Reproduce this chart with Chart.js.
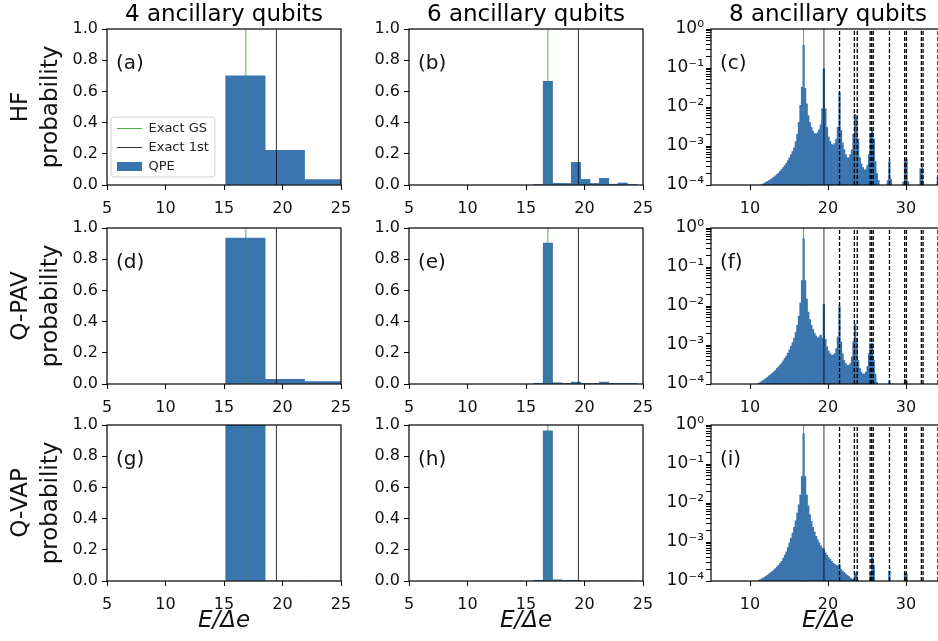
<!DOCTYPE html>
<html>
<head>
<meta charset="utf-8">
<script src="https://cdn.jsdelivr.net/npm/chart.js@4.4.1/dist/chart.umd.min.js"></script>
<style>
  html, body { margin: 0; padding: 0; width: 938px; height: 641px; overflow: hidden; background: #fff; }
  body { position: relative; }
  canvas { position: absolute; }
</style>
</head>
<body>
<script>
  // ---- data ----
  const colTitles = ['4 ancillary qubits', '6 ancillary qubits', '8 ancillary qubits'];
  const rowNames = ['HF', 'Q-PAV', 'Q-VAP'];
  const panelTags = [['(a)', '(b)', '(c)'], ['(d)', '(e)', '(f)'], ['(g)', '(h)', '(i)']];

  const exactGS = 16.87;
  const exact1st = 19.48;
  const higherLevels = [21.48, 23.38, 23.75, 25.4, 25.6, 25.8, 27.88, 29.83, 30.05, 31.97, 32.19, 34.1, 34.3];

  const linTicksX = [5, 10, 15, 20, 25];
  const logTicksX = [10, 20, 30];
  const linTicksY = [0, 0.2, 0.4, 0.6, 0.8, 1.0];
  const logDecades = [1e-4, 1e-3, 1e-2, 1e-1, 1];
  const logMinorSteps = [2, 3, 4, 5, 6, 7, 8, 9];

  // 4 ancillary qubits (bin centres)
  const bins4 = [16.83, 20.2, 23.57];
  const hf4  = [0.70, 0.222, 0.034];
  const pav4 = [0.935, 0.03, 0.016];
  const vap4 = [1.0, 0, 0];

  // 6 ancillary qubits
  const bins6 = [16.07, 16.87, 17.67, 18.47, 19.27, 20.07, 20.87, 21.67, 22.47, 23.27, 24.07];
  const hf6  = [0.003, 0.665, 0.011, 0.010, 0.145, 0.036, 0.010, 0.043, 0.005, 0.013, 0.003];
  const pav6 = [0.005, 0.903, 0.008, 0.002, 0.012, 0.003, 0.002, 0.012, 0.002, 0.001, 0.001];
  const vap6 = [0.005, 0.962, 0.008, 0.001, 0.001, 0, 0, 0, 0, 0, 0];

  // 8 ancillary qubits: bins of width 0.2 starting at 11.07
  const bins8Start = 11.07;
  const bins8Width = 0.2;
  const hf8 = [
    null, null, 1.02e-4, 1.06e-4, 1.12e-4, 1.18e-4, 1.24e-4, 1.31e-4, 1.39e-4, 1.48e-4,
    1.6e-4, 1.72e-4, 1.86e-4, 2.02e-4, 2.25e-4, 2.5e-4, 2.8e-4, 3.15e-4, 3.6e-4, 4.2e-4,
    5.0e-4, 6.0e-4, 7.2e-4, 9.0e-4, 1.3e-3, 2.0e-3, 4.0e-3, 1.1e-2, 3.2e-2, 0.38,
    0.03, 0.012, 6e-3, 4e-3, 3e-3, 2.4e-3, 2.1e-3, 2.0e-3, 2.2e-3, 2.6e-3,
    3.5e-3, 9e-3, 0.095, 9e-3, 3e-3, 1.7e-3, 1.3e-3, 1.1e-3, 1.05e-3, 1.15e-3,
    1.5e-3, 3e-3, 0.023, 2.5e-3, 1.2e-3, 8e-4, 6e-4, 5e-4, 5e-4, 6e-4,
    8e-4, 2e-3, 6.5e-3, 5.5e-3, 1.5e-3, 5e-4, 3.5e-4, 2.8e-4, 2.4e-4, 2.5e-4,
    3.2e-4, 6e-4, 2e-3, 2.4e-3, 1.5e-3, 4e-4, 2e-4, 1.3e-4, null, null,
    null, null, null, 1.3e-4, 4e-4, 1.4e-4, null, null, null, null,
    null, null, null, 1.2e-4, 4.5e-4, 4.5e-4, 1.2e-4, null, null, null,
    null, null, null, null, 2.6e-4, 2.8e-4, null, null, null, null,
    null, null, null, null, null, 1.6e-4, null
  ];
  const pav8 = [
    1.02e-4, 1.08e-4, 1.15e-4, 1.22e-4, 1.3e-4, 1.4e-4, 1.5e-4, 1.62e-4, 1.75e-4, 1.9e-4,
    2.05e-4, 2.25e-4, 2.5e-4, 2.75e-4, 3.05e-4, 3.4e-4, 3.9e-4, 4.5e-4, 5.2e-4, 6.2e-4,
    7.5e-4, 9.2e-4, 1.15e-3, 1.5e-3, 2.1e-3, 3.2e-3, 5.5e-3, 0.012, 0.045, 0.53,
    0.045, 0.015, 7e-3, 4.5e-3, 3.2e-3, 2.5e-3, 2.0e-3, 1.7e-3, 1.5e-3, 1.6e-3,
    1.8e-3, 1.5e-3, 0.011, 1.4e-3, 9e-4, 7e-4, 6e-4, 5.5e-4, 5.5e-4, 6e-4,
    8e-4, 1.6e-3, 0.01, 1.2e-3, 6e-4, 4e-4, 3.3e-4, 3e-4, 3e-4, 3.3e-4,
    5e-4, 1.2e-3, 3.4e-3, 1.5e-3, 4e-4, 2.5e-4, 2e-4, 1.8e-4, 1.8e-4, 2e-4,
    2.8e-4, 6e-4, 1.1e-3, 1.1e-3, 4e-4, 1.8e-4, 1.1e-4, null, null, null,
    null, null, null, null, 1.2e-4, null, null, null, null, null,
    null, null, null, null, 1.3e-4, 1.2e-4, null, null, null, null,
    null, null, null, null, null, null, null, null, null, null,
    null, null, null, null, null, null, null
  ];
  const vap8 = [
    1.02e-4, 1.07e-4, 1.12e-4, 1.18e-4, 1.25e-4, 1.33e-4, 1.42e-4, 1.52e-4, 1.63e-4, 1.76e-4,
    1.9e-4, 2.08e-4, 2.3e-4, 2.55e-4, 2.85e-4, 3.2e-4, 3.8e-4, 4.6e-4, 5.6e-4, 7.2e-4,
    9.5e-4, 1.25e-3, 1.7e-3, 2.4e-3, 3.5e-3, 5.5e-3, 9e-3, 0.016, 0.048, 0.6,
    0.048, 0.016, 8.5e-3, 5e-3, 3.4e-3, 2.4e-3, 1.8e-3, 1.4e-3, 1.15e-3, 9.5e-4,
    8e-4, 7e-4, 6.5e-4, 5.3e-4, 4.6e-4, 4e-4, 3.6e-4, 3.2e-4, 2.9e-4, 2.7e-4,
    2.5e-4, 2.4e-4, 2.7e-4, 2e-4, 1.8e-4, 1.65e-4, 1.5e-4, 1.4e-4, 1.3e-4, 1.2e-4,
    1.12e-4, 1.1e-4, 1.5e-4, 1.7e-4, 1.05e-4, null, null, null, null, null,
    null, null, 1.6e-4, 4e-4, 2.5e-4, null, null, null, null, null,
    null, null, null, null, 1.8e-4, null, null, null, null, null,
    null, null, null, null, 1.6e-4, 1.5e-4, null, null, null, null,
    null, null, null, null, null, null, null, null, null, null,
    null, null, null, null, null, null, null
  ];
  const bins8 = hf8.map((_, i) => +(bins8Start + bins8Width * i).toFixed(2));

  const series = [[hf4, hf6, hf8], [pav4, pav6, pav8], [vap4, vap6, vap8]];
  const binsByCol = [bins4, bins6, bins8];

  // ---- layout / style ----
  const colLeft = [107, 409, 711];
  const rowTop = [29, 228, 425];
  const plotW = 234, plotH = 156;
  const barColor = 'rgb(59,117,175)';
  const gsColor = 'rgba(44,160,44,0.85)';
  const firstColor = 'rgba(0,0,0,0.8)';

  Chart.defaults.font.family = '"DejaVu Sans", sans-serif';
  Chart.defaults.color = '#111';

  const supMap = { '-': '⁻', '0': '⁰', '1': '¹', '2': '²', '3': '³', '4': '⁴' };
  const sup = n => String(n).split('').map(ch => supMap[ch]).join('');

  const framePlugin = {
    id: 'frame',
    afterDatasetsDraw(chart, args, opts) {
      const { ctx, chartArea: a } = chart;
      ctx.save();
      ctx.strokeStyle = '#000';
      ctx.lineWidth = 1.2;
      ctx.strokeRect(a.left, a.top, a.right - a.left, a.bottom - a.top);
      ctx.fillStyle = '#111';
      ctx.font = '20px "DejaVu Sans"';
      ctx.textBaseline = 'middle';
      ctx.fillText(opts.tag, a.left + 9, a.top + 35);
      ctx.restore();
    }
  };

  // nudge the in-axes legend to the lower left like the original
  const legendShift = {
    id: 'legendShift',
    afterLayout(chart) {
      const lg = chart.legend;
      if (!lg || !lg.options.display) return;
      lg.top += 23; lg.bottom += 23;
      lg.left += 4; lg.right += 4;
    }
  };

  const legendFrame = {
    id: 'legendFrame',
    beforeDraw(chart) {
      const lg = chart.legend;
      if (!lg || !lg.options.display || !lg.legendHitBoxes.length) return;
      const hb = lg.legendHitBoxes;
      const x0 = Math.min(...hb.map(h => h.left)) - 6;
      const x1 = Math.max(...hb.map(h => h.left + h.width)) + 6;
      const y0 = Math.min(...hb.map(h => h.top)) - 5;
      const y1 = Math.max(...hb.map(h => h.top + h.height)) + 4;
      const ctx = chart.ctx;
      ctx.save();
      ctx.beginPath();
      ctx.roundRect(x0, y0, x1 - x0, y1 - y0, 3);
      ctx.fillStyle = 'rgba(255,255,255,0.8)';
      ctx.fill();
      ctx.strokeStyle = '#d0d0d0';
      ctx.lineWidth = 1;
      ctx.stroke();
      ctx.restore();
    }
  };

  function vline(x, color, dash, width, y0, y1, label) {
    return {
      type: 'line', label: label,
      data: [{ x: x, y: y0 }, { x: x, y: y1 }],
      borderColor: color, borderWidth: width, borderDash: dash,
      pointRadius: 0, pointStyle: 'line', order: 0
    };
  }

  function makePanel(r, c) {
    const isLog = c === 2;
    const yW = c === 0 ? 107 : 60;
    const headH = r === 0 ? 29 : 10;
    const xH = r === 2 ? 56 : 30;
    const canvas = document.createElement('canvas');
    canvas.width = yW + plotW + 12;
    canvas.height = headH + plotH + xH;
    canvas.style.left = (colLeft[c] - yW) + 'px';
    canvas.style.top = (rowTop[r] - headH) + 'px';
    document.body.appendChild(canvas);

    const bins = binsByCol[c];
    const vals = series[r][c];
    const yMin = isLog ? 1e-4 : 0, yMax = 1;

    const datasets = [
      vline(exactGS, gsColor, [], 1, yMin, yMax, 'Exact GS'),
      vline(exact1st, firstColor, [], 1, yMin, yMax, 'Exact 1st'),
      {
        type: 'bar', label: 'QPE',
        data: bins.map((x, i) => ({ x: x, y: vals[i] })),
        backgroundColor: barColor, borderWidth: 0,
        barPercentage: 1, categoryPercentage: 1,
        pointStyle: 'rect', order: 1
      }
    ];
    if (isLog) {
      higherLevels.forEach(v => datasets.push(vline(v, '#000', [4, 2], 1.3, yMin, yMax, '')));
    }

    const yTicks = isLog
      ? logDecades.flatMap((d, i) => i < logDecades.length - 1 ? [d, ...logMinorSteps.map(s => s * d)] : [d])
      : linTicksY;

    new Chart(canvas, {
      type: 'bar',
      data: { datasets: datasets },
      options: {
        responsive: false,
        animation: false,
        devicePixelRatio: 1,
        layout: { padding: { left: 0, right: 12, top: r === 0 ? 0 : 10, bottom: 0 } },
        scales: {
          x: {
            type: 'linear',
            min: 5, max: isLog ? 35 : 25,
            offset: false,
            grid: { offset: false, drawOnChartArea: false, drawTicks: true, tickLength: 5, tickColor: '#000' },
            border: { display: false },
            ticks: { autoSkip: false, maxRotation: 0, padding: 9, font: { size: 16 } },
            afterBuildTicks: s => { s.ticks = (isLog ? logTicksX : linTicksX).map(v => ({ value: v })); },
            afterFit: s => { s.height = xH; s.paddingLeft = 0; s.paddingRight = 0; },
            title: {
              display: r === 2, text: 'E/Δe',
              font: { size: 23, style: 'italic' }, padding: { top: 0, bottom: 2 }
            }
          },
          y: {
            type: isLog ? 'logarithmic' : 'linear',
            min: yMin, max: yMax,
            grid: { drawOnChartArea: false, drawTicks: true, tickLength: 5, tickColor: '#000' },
            border: { display: false },
            ticks: {
              autoSkip: false, padding: isLog ? 2 : 4, font: { size: isLog ? 17 : 16 },
              callback: v => {
                if (!isLog) return v.toFixed(1);
                const e = Math.log10(v);
                return Math.abs(e - Math.round(e)) < 1e-9 ? '10' + sup(Math.round(e)) : '';
              }
            },
            afterBuildTicks: s => { s.ticks = yTicks.map(v => ({ value: v })); },
            afterFit: s => { s.width = yW; s.paddingTop = 0; s.paddingBottom = 0; },
            title: {
              display: c === 0, text: [rowNames[r], 'probability'],
              font: { size: 23, lineHeight: 1.3 }, padding: { top: 6, bottom: 0 }
            }
          }
        },
        plugins: {
          title: {
            display: r === 0, text: colTitles[c], fullSize: false,
            font: { size: 23, weight: 'normal', lineHeight: 1 }, color: '#000',
            padding: { top: 4, bottom: 2 }
          },
          legend: {
            display: r === 0 && c === 0,
            position: 'chartArea', align: 'end',
            labels: {
              usePointStyle: true, pointStyleWidth: 25, boxHeight: 9, padding: 6,
              font: { size: 13 }, color: '#222',
              filter: item => item.datasetIndex <= 2
            }
          },
          tooltip: { enabled: false },
          frame: { tag: panelTags[r][c] }
        }
      },
      plugins: [legendShift, legendFrame, framePlugin]
    });
  }

  for (let r = 0; r < 3; r++) {
    for (let c = 0; c < 3; c++) makePanel(r, c);
  }
</script>
</body>
</html>
